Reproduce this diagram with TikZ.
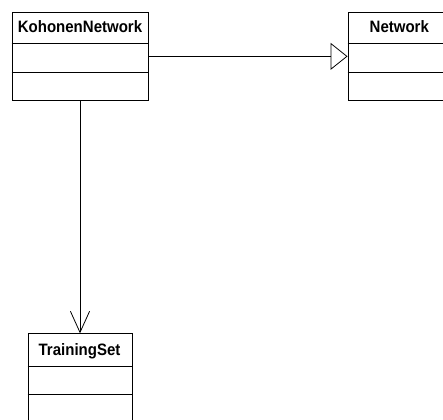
\documentclass[tikz,border=0pt]{standalone}
\usepackage{fontspec}
\setmainfont{Liberation Sans}
\newfontfamily\classfont[FakeStretch=0.91]{Liberation Sans}
\usetikzlibrary{arrows.meta,calc}

\tikzset{
  classbox/.style={draw=black, line width=0.9pt, rectangle, inner sep=0pt},
  classname/.style={font=\classfont\bfseries\fontsize{16.5}{18}\selectfont, inner sep=0pt, anchor=base},
  sep/.style={draw=black, line width=0.9pt},
  link/.style={draw=black, line width=0.8pt},
  generalization/.style={link, -{Triangle[open, length=17pt, width=27pt, line width=0.8pt]}},
  association/.style={link, -{Straight Barb[length=21pt, width=19pt, line width=0.8pt, round]}}
}

\begin{document}
\begin{tikzpicture}[x=1pt, y=-1pt]
\useasboundingbox (0,0) rectangle (443,419);
\begin{scope}
\clip (0,0) rectangle (443,419);

% KohonenNetwork class
\node[classbox, minimum width=136pt, minimum height=88.7pt] (kn) at (80,56.35) {};
\node[classname] (knname) at (80,32.7) {KohonenNetwork};
\draw[sep] ($(kn.north west)+(0,32)$) -- ($(kn.north east)+(0,32)$);
\draw[sep] ($(kn.north west)+(0,60.7)$) -- ($(kn.north east)+(0,60.7)$);

% Network class (continues past the right edge)
\node[classbox, minimum width=100pt, minimum height=88.7pt] (net) at (398,56.35) {};
\node[classname] (netname) at (399.3,32.7) {Network};
\draw[sep] ($(net.north west)+(0,32)$) -- ($(net.north east)+(0,32)$);
\draw[sep] ($(net.north west)+(0,60.7)$) -- ($(net.north east)+(0,60.7)$);

% TrainingSet class (continues past the bottom edge)
\node[classbox, minimum width=104pt, minimum height=92pt] (ts) at (80,379.3) {};
\node[classname] (tsname) at (79.5,355.5) {TrainingSet};
\draw[sep] ($(ts.north west)+(0,33.4)$) -- ($(ts.north east)+(0,33.4)$);
\draw[sep] ($(ts.north west)+(0,62)$) -- ($(ts.north east)+(0,62)$);

% Relations
\draw[generalization] (kn.east) -- (net.west);
\draw[association] (kn.south) -- (ts.north);
\end{scope}
\end{tikzpicture}
\end{document}
